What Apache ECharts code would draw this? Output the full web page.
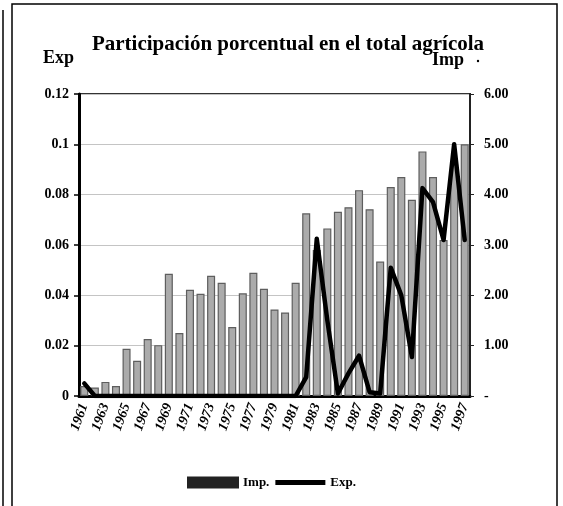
<!DOCTYPE html>
<html>
<head>
<meta charset="utf-8">
<script src="https://cdn.jsdelivr.net/npm/echarts@6/dist/echarts.min.js"></script>
<style>
  html, body { margin: 0; padding: 0; background: #fff; }
  #chart { width: 563px; height: 506px; }
</style>
</head>
<body>
<div id="chart"></div>
<script>
// ---- data ----
const years = ['1961','1962','1963','1964','1965','1966','1967','1968','1969','1970',
  '1971','1972','1973','1974','1975','1976','1977','1978','1979','1980',
  '1981','1982','1983','1984','1985','1986','1987','1988','1989','1990',
  '1991','1992','1993','1994','1995','1996','1997'];
// Imp. (right axis, %)
const impValues = [0.20, 0.17, 0.28, 0.20, 0.94, 0.70, 1.13, 1.01, 2.43, 1.25,
  2.11, 2.03, 2.39, 2.25, 1.37, 2.04, 2.45, 2.13, 1.72, 1.66,
  2.25, 3.63, 2.90, 3.33, 3.66, 3.75, 4.09, 3.71, 2.67, 4.15,
  4.35, 3.90, 4.86, 4.35, 3.10, 4.60, 5.00];
// Exp. (left axis, %)
const expValues = [0.005, 0, 0, 0, 0, 0, 0, 0, 0, 0,
  0, 0, 0, 0, 0, 0, 0, 0, 0, 0,
  0, 0.0075, 0.0625, 0.030, 0.001, 0.009, 0.016, 0.0015, 0.001, 0.051,
  0.040, 0.0155, 0.0826, 0.077, 0.062, 0.100, 0.062];
const leftTickLabels = ['0', '0.02', '0.04', '0.06', '0.08', '0.1', '0.12'];
const rightTickLabels = ['-', '1.00', '2.00', '3.00', '4.00', '5.00', '6.00'];

const serif = '"Liberation Serif", "Times New Roman", serif';
const chart = echarts.init(document.getElementById('chart'));

chart.setOption({
  animation: false,
  backgroundColor: '#fff',
  textStyle: { fontFamily: serif },
  grid: {
    left: 79, right: 93, top: 94, bottom: 110,
    show: true, borderColor: '#333', borderWidth: 2, backgroundColor: 'transparent'
  },
  legend: {
    left: 182, top: 471,
    itemGap: 6, itemWidth: 50, itemHeight: 10,
    textStyle: { fontFamily: serif, fontWeight: 'bold', fontSize: 13, color: '#000' },
    data: [
      { name: 'Imp.', icon: 'rect', itemStyle: { color: '#222', borderColor: '#222' } },
      { name: 'Exp.', icon: 'path://M0,0 L50,0 L50,5 L0,5 Z', itemStyle: { color: '#000' } }
    ]
  },
  xAxis: {
    type: 'category',
    data: years,
    boundaryGap: true,
    axisLine: { lineStyle: { color: '#000', width: 3 } },
    axisTick: { show: false },
    axisLabel: {
      interval: 1, rotate: 70, margin: 8,
      fontFamily: serif, fontWeight: 'bold', fontStyle: 'italic', fontSize: 14, color: '#000'
    }
  },
  yAxis: [
    {
      type: 'value', position: 'left', min: 0, max: 0.12, interval: 0.02,
      axisLine: { show: true, lineStyle: { color: '#000', width: 3 } },
      axisTick: { show: true, length: 5, lineStyle: { color: '#000', width: 1.5 } },
      axisLabel: {
        margin: 10, fontFamily: serif, fontWeight: 'bold', fontSize: 14, color: '#000',
        formatter: (v) => leftTickLabels[Math.round(v / 0.02)]
      },
      splitLine: { show: true, lineStyle: { color: '#c4c4c4', width: 1 } }
    },
    {
      type: 'value', position: 'right', min: 0, max: 6, interval: 1,
      axisLine: { show: true, lineStyle: { color: '#222', width: 2 } },
      axisTick: { show: true, length: 4, lineStyle: { color: '#222', width: 1 } },
      axisLabel: {
        margin: 14, fontFamily: serif, fontWeight: 'bold', fontSize: 14, color: '#000',
        formatter: (v) => rightTickLabels[Math.round(v)]
      },
      splitLine: { show: false }
    }
  ],
  series: [
    {
      name: 'Imp.', type: 'bar', yAxisIndex: 1, data: impValues,
      barCategoryGap: '24%',
      itemStyle: { color: '#ababab', borderColor: '#5e5e5e', borderWidth: 1.2 },
      z: 2
    },
    {
      name: 'Exp.', type: 'line', yAxisIndex: 0, data: expValues,
      symbol: 'none',
      lineStyle: { color: '#000', width: 4.5, join: 'round', cap: 'round' },
      itemStyle: { color: '#000' },
      z: 3
    }
  ],
  graphic: [
    { type: 'rect', shape: { x: 12, y: 4, width: 545, height: 520 },
      style: { fill: 'none', stroke: '#000', lineWidth: 1.5 }, silent: true },
    { type: 'line', shape: { x1: 3, y1: 10, x2: 3, y2: 506 },
      style: { stroke: '#000', lineWidth: 1.5 }, silent: true },
    { type: 'text', x: 288, y: 45,
      style: { text: 'Participación porcentual en el total agrícola', fill: '#000',
        font: 'bold 21px ' + serif, textAlign: 'center', textVerticalAlign: 'middle' } },
    { type: 'text', x: 43, y: 58,
      style: { text: 'Exp', fill: '#000', font: 'bold 18px ' + serif,
        textAlign: 'left', textVerticalAlign: 'middle' } },
    { type: 'text', x: 432, y: 60,
      style: { text: 'Imp', fill: '#000', font: 'bold 18px ' + serif,
        textAlign: 'left', textVerticalAlign: 'middle' } },
    { type: 'circle', shape: { cx: 478, cy: 61, r: 1.2 }, style: { fill: '#000' }, silent: true }
  ]
});
</script>
</body>
</html>
